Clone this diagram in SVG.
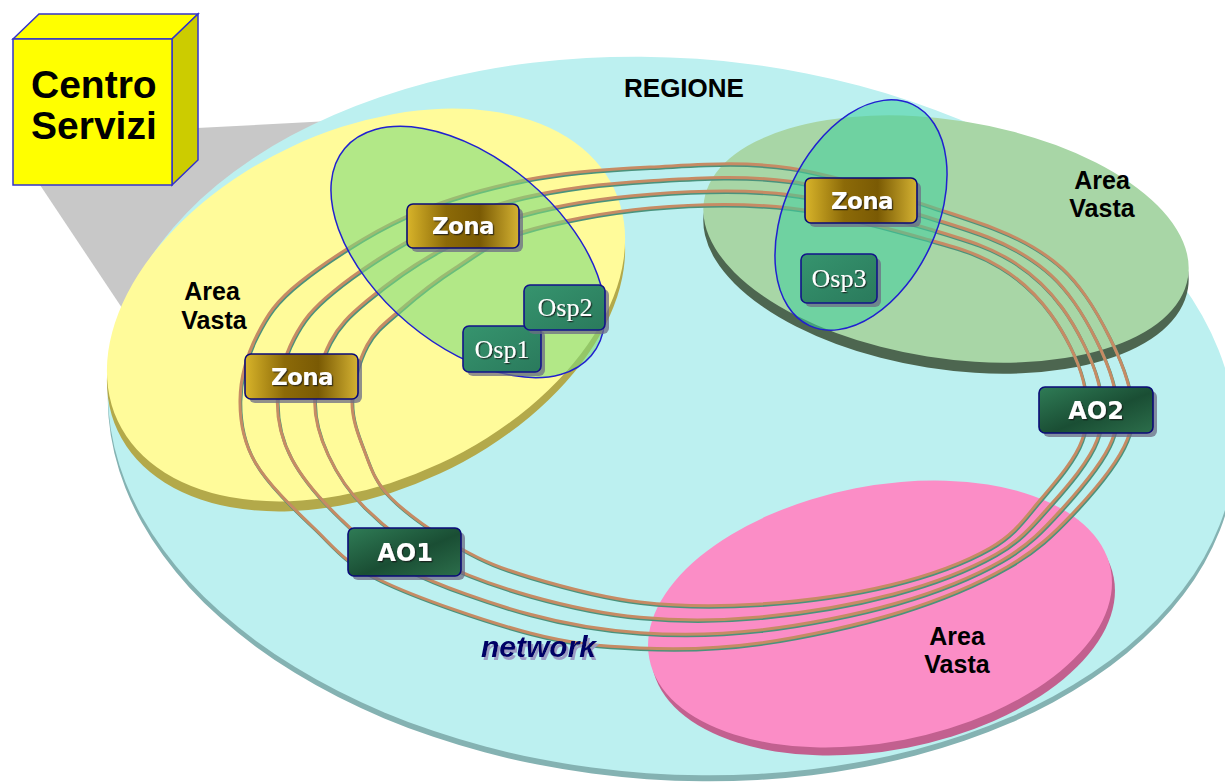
<svg xmlns="http://www.w3.org/2000/svg" xmlns:xlink="http://www.w3.org/1999/xlink" width="1225" height="782" viewBox="0 0 1225 782">
  <style>
    .label { font-family: "Liberation Sans", Arial, sans-serif; font-weight: bold; fill: #000; }
    .area { font-size: 25px; text-anchor: middle; }
    .box-text { font-family: "DejaVu Sans", Verdana, sans-serif; font-weight: bold; fill: #fff; text-anchor: middle; filter: url(#txtShadow); }
    .osp-text { font-family: "Liberation Serif", "Times New Roman", serif; fill: #fff; text-anchor: middle; font-size: 26px; filter: url(#txtShadow); }
    .shadow { fill: #6c6c84; opacity: 0.75; }
    .zona { fill: url(#gZona); stroke: #0a0a78; stroke-width: 1.6; }
    .ao { fill: url(#gAO); stroke: #0a0a78; stroke-width: 1.6; }
    .osp { fill: url(#gOsp); stroke: #12128a; stroke-width: 1.6; }
    .net-edge { fill: none; stroke: #4a927c; stroke-width: 3; }
    .net-core { fill: none; stroke: #c68b64; stroke-width: 3; }
  </style>
  <defs>
    <filter id="txtShadow" x="-10%" y="-20%" width="130%" height="150%">
      <feDropShadow dx="1.2" dy="1.2" stdDeviation="0.4" flood-color="#1e1e1e" flood-opacity="0.8"/>
    </filter>
    <filter id="netShadow" x="-5%" y="-20%" width="115%" height="160%">
      <feDropShadow dx="2" dy="3" stdDeviation="0" flood-color="#9c9cc4" flood-opacity="1"/>
    </filter>
    <linearGradient id="gZona" x1="0" y1="0" x2="1" y2="0">
      <stop offset="0" stop-color="#d8b42a"/>
      <stop offset="0.35" stop-color="#8c6a08"/>
      <stop offset="0.65" stop-color="#7a5a04"/>
      <stop offset="1" stop-color="#d4b232"/>
    </linearGradient>
    <linearGradient id="gAO" x1="0" y1="0" x2="1" y2="1">
      <stop offset="0" stop-color="#2f7c56"/>
      <stop offset="0.55" stop-color="#1a4e34"/>
      <stop offset="1" stop-color="#2c6e4b"/>
    </linearGradient>
    <linearGradient id="gOsp" x1="0" y1="0" x2="1" y2="1">
      <stop offset="0" stop-color="#36946e"/>
      <stop offset="1" stop-color="#2a7a5c"/>
    </linearGradient>

    <!-- four concentric network rings, outer to inner -->
    <path id="net1" d="M240,400 C240.3,378.8 247,354.7 257,335 S275.3,301.7 300,282 S367.5,234 405,217 S484.2,188.3 525,180 S605.8,169 650,167 S740.5,160.5 790,168 S906.5,198.8 947,212 S1010,233.2 1033,247 S1069.3,272.8 1085,295 S1120,355.8 1127,380 S1136,417.8 1127,440 S1093,491.8 1073,513 S1035.8,550.5 1007,567 S941.2,599.3 900,612 S803.3,637 760,643 S678.3,649.7 640,648 S573.3,644.3 530,633 S416.2,597.7 380,580 S333.8,546.7 313,527 S267.2,483.2 255,462 S239.7,421.2 240,400 Z"/>
    <path id="net2" d="M277.3,400 C277.7,380 284.3,356.5 293.7,338.3 S312,308.7 333.3,291.3 S389.9,249.7 421.7,234 S486,206.2 524,197.3 S605.6,183.3 650,180.7 S741.4,174.6 790,181.3 S902.7,209.3 941.3,221.3 S1000,240.4 1022,253.7 S1058.3,279.9 1073.3,301 S1105.9,356.8 1112.3,380 S1120.4,418.5 1112,440 S1080.4,488.5 1062,508.7 S1028.9,544.9 1001.3,560.7 S936.9,591.4 896.7,603 S802.8,625.1 760,630 S678.3,635.3 640,632.7 S568.9,624.9 530,614.3 S438.6,585.6 406.7,569.3 S357.9,535.6 338.7,517 S301.6,477.5 291.3,458 S277,420 277.3,400 Z"/>
    <path id="net3" d="M314.7,400 C315.1,381.3 321.7,358.2 330.3,341.7 S348.6,315.8 366.7,300.7 S412.3,265.3 438.3,251 S487.7,224.1 523,214.7 S605.5,197.7 650,194.3 S742.4,188.6 790,194.7 S898.8,219.7 935.7,230.7 S990,247.6 1011,260.3 S1047.2,287.1 1061.7,307 S1091.8,357.8 1097.7,380 S1104.8,419.3 1097,440 S1067.9,485.3 1051,504.3 S1021.9,539.4 995.7,554.3 S932.6,583.6 893.3,594 S802.2,613.1 760,617 S678.3,620.9 640,617.3 S564.4,605.4 530,595.7 S460.9,573.4 433.3,558.7 S381.9,524.4 364.3,507 S335.9,471.9 327.7,454 S314.2,418.7 314.7,400 Z"/>
    <path id="net4" d="M352,400 C352.5,382.5 359,360 367,345 S385.3,322.8 400,310 S434.7,281 455,268 S489.5,242 522,232 S605.3,212 650,208 S743.3,202.7 790,208 S895,230.2 930,240 S980,254.8 1000,267 S1036.2,294.2 1050,313 S1077.7,358.8 1083,380 S1089.2,420 1082,440 S1055.3,482 1040,500 S1015,533.8 990,548 S928.3,575.7 890,585 S801.7,601.2 760,604 S678.3,606.5 640,602 S560,586 530,577 S483.3,561.3 460,548 S406,513.3 390,497 S370.3,466.2 364,450 S351.5,417.5 352,400 Z"/>
  </defs>

  <rect width="1225" height="782" fill="#ffffff"/>

  <!-- projection cone from the service centre down to the region -->
  <polygon points="40,185 197,128 330,121 122,308" fill="#c8c8c8"/>

  <!-- REGIONE platform -->
  <g id="regione">
    <ellipse cx="672" cy="422" rx="565" ry="358" transform="rotate(4 672 422)" fill="#84b2b2"/>
    <ellipse cx="672" cy="416" rx="565" ry="358" transform="rotate(4 672 416)" fill="#bcf0f0"/>
    <text class="label" x="684" y="97" font-size="26" text-anchor="middle">REGIONE</text>
  </g>

  <!-- Area Vasta discs -->
  <g id="area-vasta-1">
    <ellipse cx="366" cy="315" rx="274" ry="175" transform="rotate(-25 366 315)" fill="#b3a94a"/>
    <ellipse cx="366" cy="305" rx="274" ry="175" transform="rotate(-25 366 305)" fill="#fffb9a"/>
    <text class="label area" x="212" y="300">Area</text>
    <text class="label area" x="214" y="329">Vasta</text>
  </g>
  <g id="area-vasta-2">
    <ellipse cx="946" cy="250" rx="245" ry="119" transform="rotate(9 946 250)" fill="#4d6650"/>
    <ellipse cx="946" cy="239" rx="245" ry="119" transform="rotate(9 946 239)" fill="#a8d6a6"/>
    <text class="label area" x="1102" y="189">Area</text>
    <text class="label area" x="1102" y="217">Vasta</text>
  </g>
  <g id="area-vasta-3">
    <ellipse cx="883" cy="622" rx="235" ry="128" transform="rotate(-11 883 622)" fill="#c2608f"/>
    <ellipse cx="880" cy="614" rx="235" ry="128" transform="rotate(-11 880 614)" fill="#fb8dc6"/>
    <text class="label area" x="957" y="645">Area</text>
    <text class="label area" x="957" y="673">Vasta</text>
  </g>

  <!-- network rings -->
  <g id="connectors">
    <g class="net-edge" transform="translate(0.8,1.5)">
      <use xlink:href="#net1" href="#net1"/>
      <use xlink:href="#net2" href="#net2"/>
      <use xlink:href="#net3" href="#net3"/>
      <use xlink:href="#net4" href="#net4"/>
    </g>
    <g class="net-core">
      <use xlink:href="#net1" href="#net1"/>
      <use xlink:href="#net2" href="#net2"/>
      <use xlink:href="#net3" href="#net3"/>
      <use xlink:href="#net4" href="#net4"/>
    </g>
  </g>

  <!-- zone boundaries -->
  <g id="zone-left">
    <ellipse cx="468" cy="252" rx="161" ry="93" transform="rotate(40 468 252)" fill="#7edc7c" fill-opacity="0.6" stroke="#2020d0" stroke-width="1.5"/>
  </g>
  <g id="zone-right">
    <ellipse cx="861" cy="215" rx="122" ry="76" transform="rotate(-65 861 215)" fill="#3fd09c" fill-opacity="0.55" stroke="#2020d0" stroke-width="1.5"/>
  </g>

  <!-- Centro Servizi block -->
  <g id="centro-servizi">
    <polygon points="13,39 39,14 198,14 172,39" fill="#ffff00" stroke="#3333cc" stroke-width="1.5"/>
    <polygon points="172,39 198,14 198,160 172,185" fill="#cccc00" stroke="#3333cc" stroke-width="1.5"/>
    <rect x="13" y="39" width="159" height="146" fill="#ffff00" stroke="#3333cc" stroke-width="1.5"/>
    <text class="label" x="31" y="98" font-size="39">Centro</text>
    <text class="label" x="31" y="139" font-size="39">Servizi</text>
  </g>

  <!-- Zona nodes -->
  <g id="zona-1">
    <rect class="shadow" x="411" y="208" width="112" height="44" rx="6"/>
    <rect class="zona" x="407" y="204" width="112" height="44" rx="6"/>
    <text class="box-text" x="463" y="234" font-size="23" letter-spacing="-0.6">Zona</text>
  </g>
  <g id="zona-2">
    <rect class="shadow" x="249" y="358" width="113" height="45" rx="6"/>
    <rect class="zona" x="245" y="354" width="113" height="45" rx="6"/>
    <text class="box-text" x="302" y="385" font-size="23" letter-spacing="-0.6">Zona</text>
  </g>
  <g id="zona-3">
    <rect class="shadow" x="809" y="182" width="112" height="45" rx="6"/>
    <rect class="zona" x="805" y="178" width="112" height="45" rx="6"/>
    <text class="box-text" x="862" y="209" font-size="23" letter-spacing="-0.6">Zona</text>
  </g>

  <!-- Hospitals -->
  <g id="osp1">
    <rect class="shadow" x="467" y="330" width="78" height="46" rx="6"/>
    <rect class="osp" x="463" y="326" width="78" height="46" rx="6"/>
    <text class="osp-text" x="502" y="358">Osp1</text>
  </g>
  <g id="osp2">
    <rect class="shadow" x="528" y="289" width="81" height="45" rx="6"/>
    <rect class="osp" x="524" y="285" width="81" height="45" rx="6"/>
    <text class="osp-text" x="565" y="316">Osp2</text>
  </g>
  <g id="osp3">
    <rect class="shadow" x="805" y="258" width="76" height="49" rx="6"/>
    <rect class="osp" x="801" y="254" width="76" height="49" rx="6"/>
    <text class="osp-text" x="839" y="287">Osp3</text>
  </g>

  <!-- Aziende Ospedaliere -->
  <g id="ao1">
    <rect class="shadow" x="352" y="532" width="113" height="48" rx="6"/>
    <rect class="ao" x="348" y="528" width="113" height="48" rx="6"/>
    <text class="box-text" x="405" y="561" font-size="24">AO1</text>
  </g>
  <g id="ao2">
    <rect class="shadow" x="1043" y="391" width="114" height="46" rx="6"/>
    <rect class="ao" x="1039" y="387" width="114" height="46" rx="6"/>
    <text class="box-text" x="1096" y="419" font-size="24">AO2</text>
  </g>

  <!-- network caption -->
  <g id="network-label">
    <text x="481" y="657" font-family="'Liberation Sans', Arial, sans-serif" font-size="30" font-weight="bold" font-style="italic" fill="#000066" filter="url(#netShadow)">network</text>
  </g>
</svg>
